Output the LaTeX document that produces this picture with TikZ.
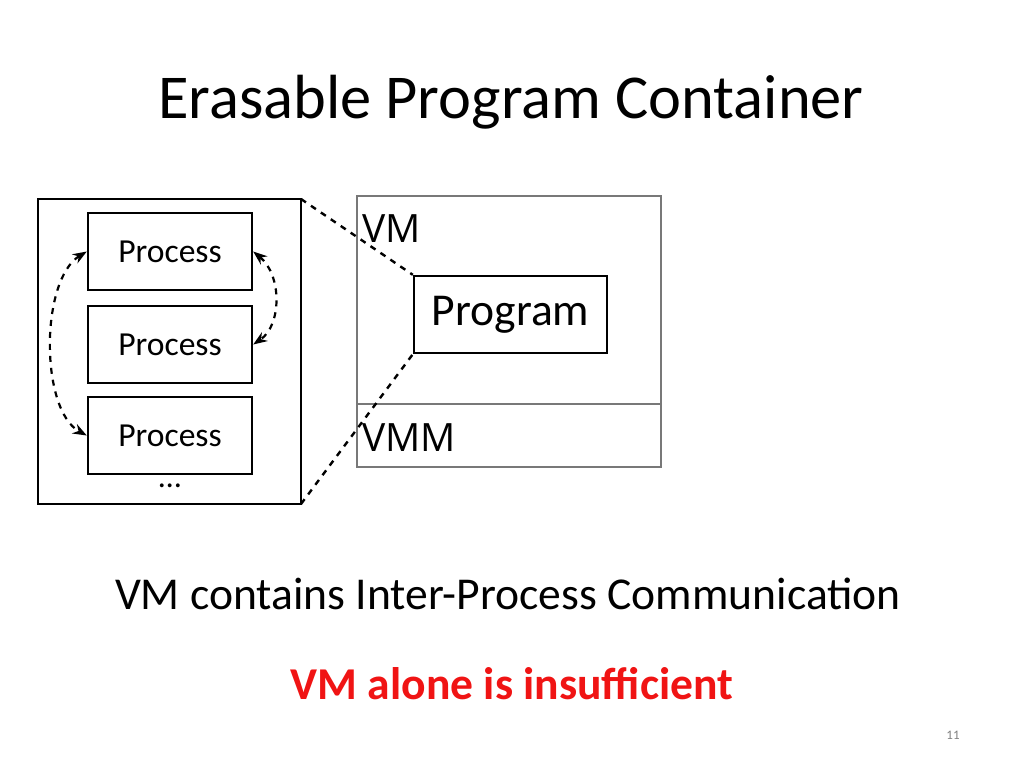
\documentclass[tikz,border=0pt]{standalone}
\usepackage{fontspec}
\setmainfont{Carlito}
\newfontfamily\vmfont{Open Sans}
\usetikzlibrary{arrows.meta}
\definecolor{boxgray}{RGB}{120,120,120}
\definecolor{slidered}{RGB}{240,20,20}
\tikzset{
  proc/.style={draw, line width=1.2pt, minimum width=82pt, minimum height=38.5pt, inner sep=0pt, font=\fontsize{16.8}{19}\selectfont},
  ipc/.style={dashed, line width=1.1pt, {Stealth[length=7pt]}-{Stealth[length=7pt]}}
}
\begin{document}
\begin{tikzpicture}[x=0.5pt, y=-0.5pt]
\useasboundingbox (0,0) rectangle (1024,768);

% title
\node (title) at (511,102) {\fontsize{31.2}{36}\selectfont Erasable Program Container};

% process box
\draw[line width=1.3pt] (38,199) rectangle (301,504);
\node[proc] (p1) at (170,251.5) {Process};
\node[proc] (p2) at (170,344.5) {Process};
\node[proc] (p3) at (170,435.5) {Process};
\node (dots) at (170,486) {\fontsize{16}{18}\selectfont \dots};

%% IPC arrows
\draw[ipc] (p1.west) ..controls (40,280) and (40,410) .. (p3.west);
\draw[ipc] (p1.east) ..controls (282,275) and (282,325) .. (p2.east);

% VM and VMM
\draw[boxgray, line width=1.4pt] (357,196) rectangle (661,467);
\draw[boxgray, line width=1.4pt] (357,404) -- (661,404);
\node[anchor=west, inner sep=0pt] (vm) at (362,229) {\vmfont\fontsize{19.5}{22}\selectfont VM};
\node[anchor=west, inner sep=0pt] (vmm) at (362,438) {\vmfont\fontsize{19.5}{22}\selectfont VMM};
\node[draw, line width=1.2pt, minimum width=96.5pt, minimum height=38.5pt, inner sep=0pt] (prog) at (510.5,314.5) {\fontsize{22.8}{26}\selectfont Program};

%% zoom lines
\coordinate (zt) at (301,199);
\coordinate (zb) at (301,504);
\draw[line width=1.2pt, dashed] (zt) -- (prog.north west);
\draw[line width=1.2pt, dashed] (zb) -- (prog.south west);

% captions
\node (cap) at (508,594) {\fontsize{22.8}{26}\selectfont VM contains Inter-Process Communication};
\node[text=slidered] (warn) at (512,684) {\fontsize{22.8}{26}\selectfont\bfseries VM alone is insufficient};
\node[text=gray] (page) at (953,735) {\fontsize{6.5}{7}\selectfont 11};
\end{tikzpicture}
\end{document}
